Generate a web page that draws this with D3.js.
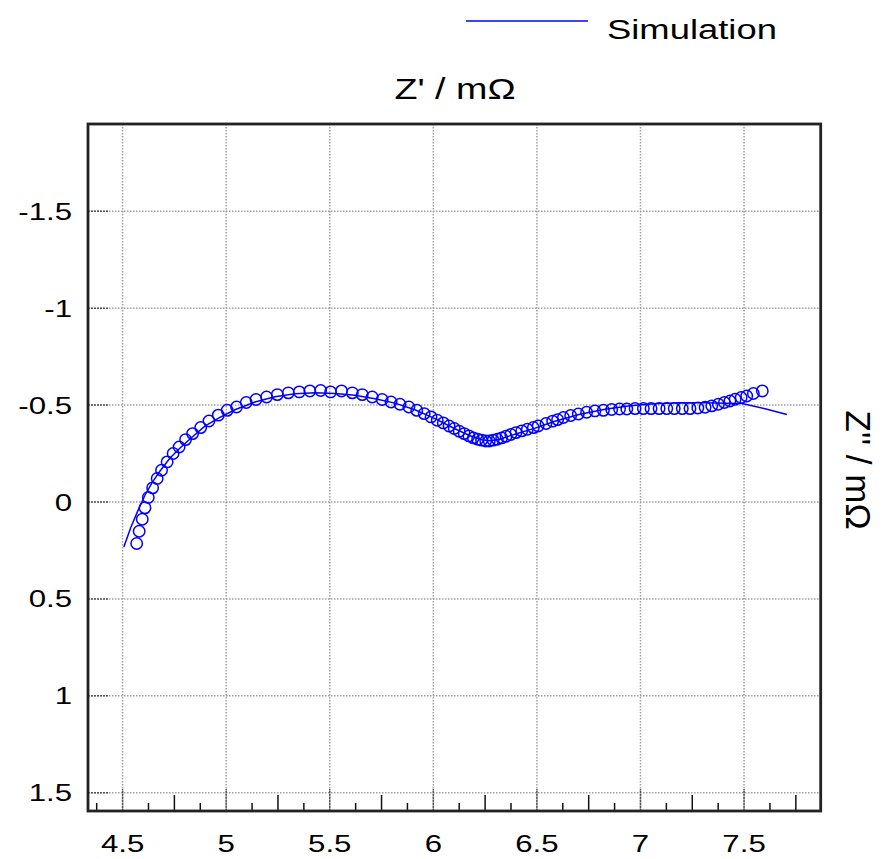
<!DOCTYPE html>
<html lang="en">
<head>
<meta charset="utf-8">
<title>Nyquist plot</title>
<script src="https://cdn.jsdelivr.net/npm/d3@7/dist/d3.min.js"></script>
<style>
  body { margin: 0; background: #fff; }
  text { font-family: "Liberation Sans", Arial, sans-serif; fill: #000; }
</style>
</head>
<body>
<script>
// measured points: Z' (mOhm) and Z'' (mOhm)
var measX = [4.568, 4.580, 4.595, 4.608, 4.624, 4.645, 4.667, 4.688, 4.715, 4.744,
  4.773, 4.804, 4.838, 4.877, 4.917, 4.962, 5.005, 5.050, 5.097, 5.144,
  5.195, 5.247, 5.300, 5.353, 5.404, 5.456, 5.504, 5.557, 5.609, 5.657,
  5.705, 5.753, 5.796, 5.839, 5.882, 5.920, 5.956, 5.989, 6.019, 6.048,
  6.076, 6.101, 6.125, 6.149, 6.172, 6.193, 6.214, 6.233, 6.253, 6.270,
  6.289, 6.309, 6.330, 6.351, 6.374, 6.399, 6.427, 6.454, 6.483, 6.506,
  6.544, 6.576, 6.600, 6.628, 6.663, 6.700, 6.740, 6.780, 6.821, 6.861,
  6.899, 6.934, 6.974, 7.014, 7.051, 7.090, 7.127, 7.163, 7.202, 7.239,
  7.277, 7.312, 7.344, 7.376, 7.405, 7.432, 7.457, 7.486, 7.513, 7.545, 7.588];
var measY = [0.214, 0.151, 0.089, 0.030, -0.023, -0.073, -0.121, -0.164, -0.207, -0.250,
  -0.284, -0.322, -0.353, -0.384, -0.418, -0.448, -0.473, -0.490, -0.513, -0.529,
  -0.542, -0.554, -0.563, -0.568, -0.573, -0.575, -0.568, -0.573, -0.563, -0.554,
  -0.542, -0.529, -0.516, -0.504, -0.490, -0.473, -0.456, -0.439, -0.422, -0.408,
  -0.392, -0.379, -0.365, -0.353, -0.341, -0.331, -0.324, -0.319, -0.315, -0.315,
  -0.319, -0.324, -0.331, -0.339, -0.348, -0.358, -0.367, -0.375, -0.384, -0.392,
  -0.405, -0.417, -0.425, -0.436, -0.446, -0.454, -0.463, -0.470, -0.473, -0.477,
  -0.480, -0.480, -0.482, -0.482, -0.482, -0.482, -0.482, -0.482, -0.482, -0.482,
  -0.485, -0.489, -0.496, -0.504, -0.513, -0.521, -0.530, -0.539, -0.547, -0.560, -0.573];

// simulation curve
var simX = [4.506, 4.540, 4.575, 4.608, 4.641, 4.680, 4.728, 4.776, 4.835, 4.897,
  4.970, 5.042, 5.139, 5.235, 5.332, 5.429, 5.525, 5.622, 5.718, 5.815,
  5.911, 6.008, 6.104, 6.177, 6.235, 6.274, 6.322, 6.394, 6.491, 6.587,
  6.708, 6.829, 6.950, 7.070, 7.191, 7.312, 7.408, 7.490, 7.601, 7.707];
var simY = [0.232, 0.130, 0.042, -0.035, -0.097, -0.159, -0.226, -0.277, -0.334, -0.391,
  -0.437, -0.476, -0.516, -0.543, -0.559, -0.564, -0.560, -0.551, -0.533, -0.510,
  -0.476, -0.430, -0.378, -0.342, -0.321, -0.316, -0.324, -0.350, -0.381, -0.417,
  -0.453, -0.479, -0.497, -0.507, -0.512, -0.512, -0.510, -0.508, -0.481, -0.451];

var xTicks = [4.5, 5, 5.5, 6, 6.5, 7, 7.5];
var yTicks = [-1.5, -1, -0.5, 0, 0.5, 1, 1.5];
var xDomain = [4.333, 7.870];
var yDomain = [-1.950, 1.594];

var width = 883, height = 859;
var padLeft = 88, padRight = 820.7, padTop = 124, padBottom = 811;
var stretch = 1.3;   // text looks stretched horizontally in the original
var blue = "#0000ff";

var svg = d3.select("body").append("svg").attr("width", width).attr("height", height);

var x = d3.scaleLinear().domain(xDomain).range([padLeft, padRight]);
var y = d3.scaleLinear().domain(yDomain).range([padTop, padBottom]);

// grid
svg.append("g").selectAll("line").data(xTicks).enter().append("line")
  .attr("x1", d => x(d)).attr("x2", d => x(d))
  .attr("y1", padTop).attr("y2", padBottom)
  .attr("stroke", "#a0a0a0").attr("stroke-width", 1.5).attr("stroke-dasharray", "1.5,1.5");
svg.append("g").selectAll("line").data(yTicks).enter().append("line")
  .attr("x1", padLeft).attr("x2", padRight)
  .attr("y1", d => y(d)).attr("y2", d => y(d))
  .attr("stroke", "#a0a0a0").attr("stroke-width", 1.5).attr("stroke-dasharray", "1.5,1.5");

// major ticks (dark dashes)
svg.append("g").selectAll("line").data(xTicks).enter().append("line")
  .attr("x1", d => x(d)).attr("x2", d => x(d))
  .attr("y1", padBottom).attr("y2", padBottom - 22)
  .attr("stroke", "#555").attr("stroke-width", 1.5).attr("stroke-dasharray", "2,1");
svg.append("g").selectAll("line").data(yTicks).enter().append("line")
  .attr("x1", padLeft).attr("x2", padLeft + 20)
  .attr("y1", d => y(d)).attr("y2", d => y(d))
  .attr("stroke", "#555").attr("stroke-width", 1.5).attr("stroke-dasharray", "2,1");

// minor ticks on the bottom axis
var minor = d3.range(4.375, 7.87, 0.125).filter(d => Math.abs(d * 2 - Math.round(d * 2)) > 1e-6);
svg.append("g").selectAll("line").data(minor).enter().append("line")
  .attr("x1", d => x(d)).attr("x2", d => x(d))
  .attr("y1", padBottom)
  .attr("y2", d => Math.abs(d * 4 - Math.round(d * 4)) < 1e-6 ? padBottom - 16 : padBottom - 8)
  .attr("stroke", "#111").attr("stroke-width", 1.5);

// frame
svg.append("rect")
  .attr("x", padLeft).attr("y", padTop)
  .attr("width", padRight - padLeft).attr("height", padBottom - padTop)
  .attr("fill", "none").attr("stroke", "#222").attr("stroke-width", 2.8);

// simulation line
var line = d3.line().x(d => x(d[0])).y(d => y(d[1]));
svg.append("path")
  .datum(simX.map((v, i) => [v, simY[i]]))
  .attr("d", line)
  .attr("fill", "none").attr("stroke", blue).attr("stroke-width", 1.5);

// measured circles
svg.append("g").selectAll("circle").data(measX.map((v, i) => [v, measY[i]])).enter().append("circle")
  .attr("cx", d => x(d[0])).attr("cy", d => y(d[1]))
  .attr("r", 5.7)
  .attr("fill", "none").attr("stroke", blue).attr("stroke-width", 1.5);

// tick labels
function sText(px, py, anchor, size, str) {
  return svg.append("text")
    .attr("transform", "translate(" + px + "," + py + ") scale(" + stretch + ",1)")
    .attr("text-anchor", anchor)
    .style("font-size", size + "px")
    .text(str);
}
xTicks.forEach(function (d) { sText(x(d), 852, "middle", 24, d); });
yTicks.forEach(function (d) { sText(72, y(d) + 8.5, "end", 24, d); });

// axis titles
sText(455, 99, "middle", 29, "Z' / m\u03A9");
svg.append("text")
  .attr("transform", "translate(846,470) rotate(90)")
  .attr("text-anchor", "middle")
  .style("font-size", "35px")
  .text("Z'' / m\u03A9");

// legend
svg.append("line")
  .attr("x1", 466).attr("x2", 588).attr("y1", 21).attr("y2", 21)
  .attr("stroke", blue).attr("stroke-width", 1.5);
sText(607, 39, "start", 28, "Simulation");
</script>
</body>
</html>
